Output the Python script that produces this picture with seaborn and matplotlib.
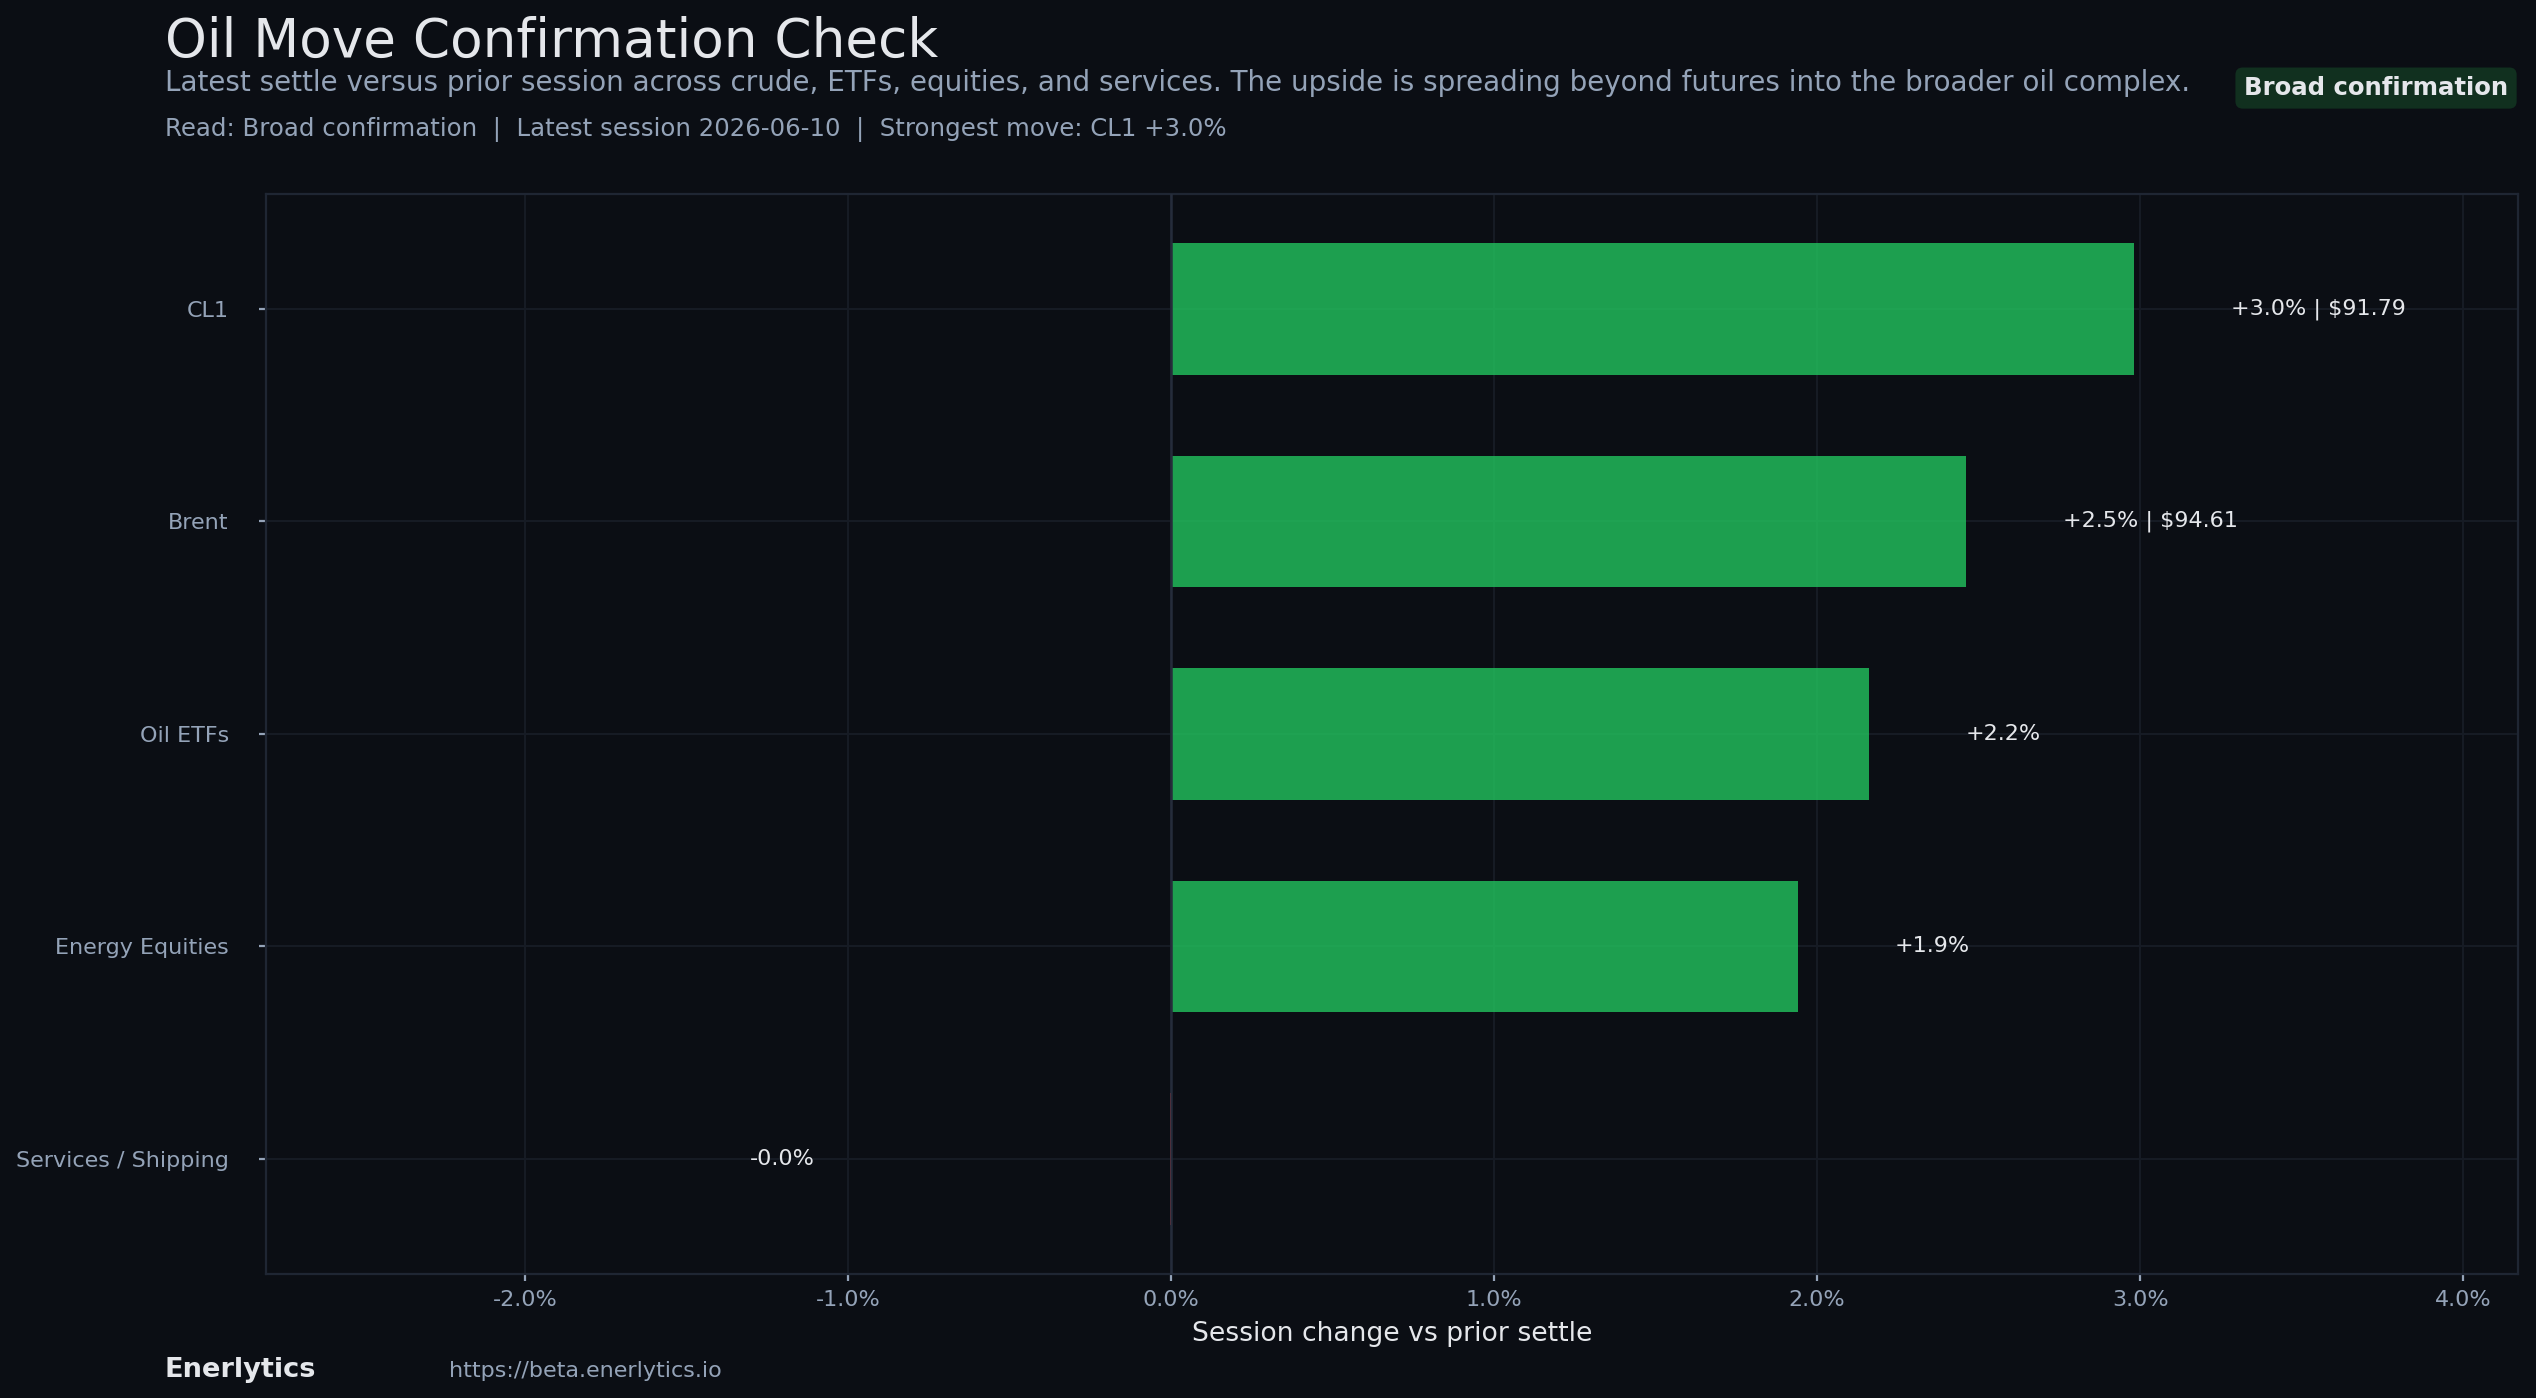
import matplotlib
matplotlib.use("Agg")
from matplotlib import pyplot as plt
from matplotlib.ticker import FuncFormatter, MultipleLocator
import numpy as np
import pandas as pd
import seaborn as sns

# data
categories = ["CL1", "Brent", "Oil ETFs", "Energy Equities", "Services / Shipping"]
change_pct = [2.98, 2.46, 2.16, 1.94, -0.002]
last_price = [91.79, 94.61, None, None, None]

BG = "#0b0e14"
GRID = "#161b24"
SPINE = "#1f2633"
MUTED = "#94a3b8"
TEXT = "#e5e7eb"
UP = "#22c55e"
DOWN = "#ef4444"

sns.set_theme(style="dark")
plt.rcParams["font.family"] = ["DejaVu Sans"]

df = pd.DataFrame({"cat": categories, "chg": change_pct})
df["sign"] = np.where(df["chg"] >= 0, "up", "down")

fig = plt.figure(figsize=(12.68, 6.99), dpi=200, facecolor=BG)
ax = fig.add_axes([0.105, 0.089, 0.888, 0.772])
ax.set_facecolor(BG)

sns.barplot(data=df, y="cat", x="chg", hue="sign", palette={"up": UP, "down": DOWN},
            orient="h", width=0.62, alpha=0.8, saturation=1, legend=False, ax=ax)
for b in ax.patches:
    b.set_edgecolor("none")
    b.set_zorder(2)

# seaborn switches off the grid on the categorical axis, so turn it back on
ax.set_axisbelow(True)
ax.grid(True, axis="both", color=GRID, linewidth=0.75)

ax.set_xlim(-2.8, 4.17)
ax.set_ylim(4.54, -0.54)
ax.xaxis.set_major_locator(MultipleLocator(1.0))
ax.xaxis.set_major_formatter(FuncFormatter(lambda v, p: f"{v:.1f}%"))

# zero line sits on top so a near-zero bar does not show as a sliver
ax.axvline(0, color="#252c3b", linewidth=0.9, zorder=3)

for s in ax.spines.values():
    s.set_color(SPINE)
    s.set_linewidth(0.8)
    s.set_visible(True)

ax.tick_params(axis="x", colors=MUTED, labelsize=8, length=2.5, width=0.8, pad=3.5, bottom=True)
ax.tick_params(axis="y", colors=MUTED, labelsize=8, length=2.5, width=0.8, pad=11, left=True)
ax.set_ylabel("")
ax.set_xlabel("Session change vs prior settle", color=TEXT, fontsize=9.6, labelpad=4)

# value labels
for i, (v, p) in enumerate(zip(change_pct, last_price)):
    lab = f"{v:+.1f}%"
    if v < 0 and round(v, 1) == 0:
        lab = "-0.0%"
    if p is not None:
        lab += f" | ${p:.2f}"
    if v >= 0:
        ax.text(v + 0.3, i, lab, ha="left", va="center", color=TEXT, fontsize=8, zorder=4)
    else:
        ax.text(v - 1.1, i, lab, ha="right", va="center", color=TEXT, fontsize=8, zorder=4)

# header
fig.text(0.065, 0.959, "Oil Move Confirmation Check", color=TEXT, fontsize=19.2,
         ha="left", va="baseline")
fig.text(0.065, 0.935,
         "Latest settle versus prior session across crude, ETFs, equities, and services. "
         "The upside is spreading beyond futures into the broader oil complex.",
         color=MUTED, fontsize=10, ha="left", va="baseline")
fig.text(0.065, 0.903,
         "Read: Broad confirmation  |  Latest session 2026-06-10  |  Strongest move: CL1 +3.0%",
         color=MUTED, fontsize=8.8, ha="left", va="baseline")
fig.text(0.989, 0.932, "Broad confirmation", color=TEXT, fontsize=8.8, fontweight="bold",
         ha="right", va="baseline",
         bbox=dict(boxstyle="round,pad=0.35,rounding_size=0.3", facecolor="#11301f",
                   edgecolor="none"))

# footer
fig.text(0.065, 0.015, "Enerlytics", color=TEXT, fontsize=9.8, fontweight="bold",
         ha="left", va="baseline")
fig.text(0.177, 0.015, "https://beta.enerlytics.io", color=MUTED, fontsize=8,
         ha="left", va="baseline")

fig.savefig("out.png", dpi=200, facecolor=BG)
